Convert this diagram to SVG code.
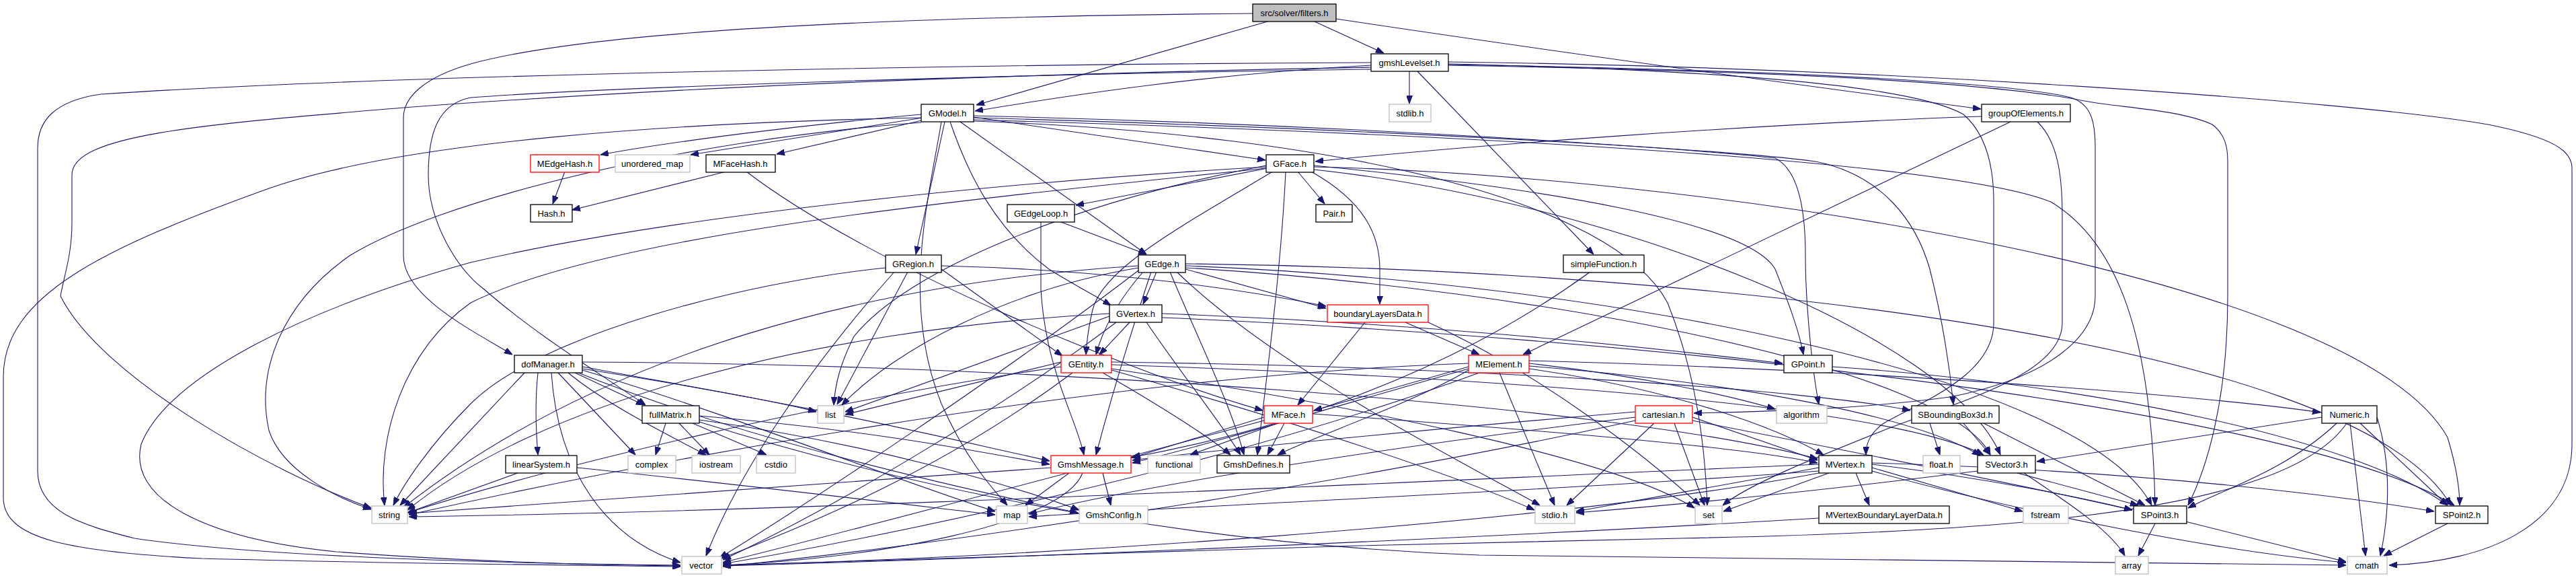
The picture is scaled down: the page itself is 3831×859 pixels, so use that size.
<svg xmlns="http://www.w3.org/2000/svg" width="3831" height="859" viewBox="0 0 3831 859">
<style>
.e path{fill:none;stroke:#191970;stroke-width:1.1;marker-end:url(#a)}
.n rect{fill:#fff;stroke:#000;stroke-width:1.3}
.g rect{fill:#fff;stroke:#bfbfbf;stroke-width:1.3}
.r rect{fill:#fff;stroke:#ff0000;stroke-width:1.3}
text{font-family:"Liberation Sans",Arial,sans-serif;font-size:13px;text-anchor:middle;fill:#000}
</style>
<defs>
<marker id="a" viewBox="0 0 12 9" refX="12" refY="4.5" markerWidth="12" markerHeight="9" orient="auto" markerUnits="userSpaceOnUse">
<path d="M0,0 L12,4.5 L0,9 z" fill="#191970" stroke="#191970"/>
</marker>
</defs>
<rect width="3831" height="859" fill="#fff"/>
<g id="edges" class="e">
<path d="M1955,32 L2058,79"/>
<path d="M1885,32 L1452,156"/>
<path d="M1863,20 C1400,24 900,40 700,95 C630,115 600,145 600,175 L600,380 C600,440 700,490 762,527"/>
<path d="M1987,28 C2400,90 2780,140 2946,162"/>
<path d="M2039,97 C1800,110 1600,140 1450,165"/>
<path d="M2096,106 L2096,154"/>
<path d="M2108,106 L2370,378"/>
<path d="M2154,92 C2800,100 3500,150 3700,185 C3800,205 3825,225 3825,250 L3825,660 C3825,780 3700,835 3553,840"/>
<path d="M2039,93 C1500,95 600,110 150,140 C80,150 56,180 56,220 L56,700 C56,760 120,780 200,800 C400,830 800,838 1012,840"/>
<path d="M2039,100 C1500,110 1000,130 600,160 C300,185 107,200 107,260 L107,330 C107,380 95,410 90,440 C150,560 400,700 552,755"/>
<path d="M2039,103 C1500,110 900,130 700,145 C650,155 637,200 637,260 C637,330 680,400 720,430 C800,500 900,560 960,602"/>
<path d="M2154,96 C2700,105 3000,125 3080,145 C3110,155 3116,180 3116,220 L3116,440 C3116,500 3050,560 2900,590 C2750,610 2600,612 2519,614"/>
<path d="M2154,97 C2600,105 2950,120 3100,150 C3150,160 3240,162 3290,185 C3310,200 3313,220 3313,240 L3313,440 C3313,600 3280,700 3254,751"/>
<path d="M2154,95 C2600,105 2850,130 2920,170 C2955,200 2965,250 2965,300 L2965,480 C2965,560 2850,600 2800,630 C2780,645 2775,660 2775,676"/>
<path d="M2947,173 C2600,185 2200,215 1956,240"/>
<path d="M2990,181 L2265,527"/>
<path d="M3030,181 C3060,210 3067,260 3067,320 L3067,480 C3067,560 2900,600 2800,640 C2700,680 2600,720 2562,751"/>
<path d="M1370,170 C1200,185 1000,210 893,230"/>
<path d="M1372,175 L1027,230"/>
<path d="M1375,178 L1155,229"/>
<path d="M1448,174 L1882,238"/>
<path d="M1405,181 L1362,378"/>
<path d="M1428,181 L1705,378"/>
<path d="M1413,181 C1440,260 1480,340 1560,400 C1600,425 1630,440 1652,454"/>
<path d="M1370,175 C1000,182 600,210 400,280 C150,370 5,440 5,560 L5,740 C5,800 100,820 300,830 C600,838 850,840 1012,842"/>
<path d="M1370,182 C1000,210 650,300 520,380 C420,450 380,550 400,640 C420,700 500,740 552,757"/>
<path d="M1400,181 C1380,300 1340,450 1400,600 C1440,690 1480,730 1498,751"/>
<path d="M1448,180 C2000,200 2400,300 2480,450 C2520,550 2535,650 2539,751"/>
<path d="M1448,172 C2000,185 2500,220 2640,235 C2670,250 2685,300 2685,380 C2685,450 2695,550 2705,601"/>
<path d="M1448,175 C2000,190 2550,220 2700,240 C2800,260 2850,330 2870,400 C2890,480 2900,550 2905,601"/>
<path d="M1448,178 C2200,200 2900,240 3050,300 C3150,360 3200,500 3205,751"/>
<path d="M840,255 L822,303"/>
<path d="M1080,255 L851,312"/>
<path d="M1110,255 C1300,400 1700,560 1878,610"/>
<path d="M1885,250 L1600,305"/>
<path d="M1930,255 L1970,303"/>
<path d="M1950,255 C2030,300 2052,350 2052,400 L2052,452"/>
<path d="M1891,256 C1750,340 1640,400 1625,460 C1618,490 1616,510 1615,527"/>
<path d="M1912,256 C1905,400 1885,550 1870,676"/>
<path d="M1954,246 C2300,280 2600,330 2640,400 C2660,450 2675,490 2682,527"/>
<path d="M1883,246 C1600,300 1350,400 1270,500 C1250,540 1242,570 1240,602"/>
<path d="M1883,250 C1400,300 900,350 700,450 C600,520 560,650 572,751"/>
<path d="M1883,248 C1500,270 1000,320 700,390 C450,460 250,560 210,660 C190,740 300,800 500,820 C700,835 900,840 1012,841"/>
<path d="M1954,248 C2500,260 3500,400 3640,650 C3655,700 3658,730 3658,751"/>
<path d="M1954,252 C2400,300 2900,500 2975,676"/>
<path d="M1578,330 L1705,378"/>
<path d="M1548,330 L1548,430 C1555,550 1600,620 1612,676"/>
<path d="M1400,400 L1580,529"/>
<path d="M1400,395 C1600,400 1800,420 1972,455"/>
<path d="M1350,404 L1245,601"/>
<path d="M1317,398 C1100,420 800,500 700,600 C640,660 600,720 585,751"/>
<path d="M1330,404 C1200,550 1100,700 1050,826"/>
<path d="M1720,404 L1700,452"/>
<path d="M1700,404 C1660,450 1640,490 1630,527"/>
<path d="M1740,404 C1780,500 1830,600 1850,676"/>
<path d="M1712,404 C1680,500 1650,600 1630,676"/>
<path d="M1693,398 C1500,430 1330,520 1252,602"/>
<path d="M1693,395 C1300,420 900,520 600,754"/>
<path d="M1693,402 C1500,550 1200,750 1070,829"/>
<path d="M1763,398 C2300,430 2900,550 2960,676"/>
<path d="M1763,395 C2400,420 3100,560 3200,751"/>
<path d="M1763,392 C2500,400 3500,500 3645,751"/>
<path d="M1750,404 C1900,550 2200,700 2290,751"/>
<path d="M1763,400 L1972,458"/>
<path d="M1680,479 L1635,527"/>
<path d="M1728,466 C2100,480 2400,510 2651,540"/>
<path d="M1650,470 L1257,612"/>
<path d="M1650,466 C1200,490 800,600 606,758"/>
<path d="M1660,479 C1500,600 1250,750 1075,832"/>
<path d="M1705,479 C1760,560 1810,620 1845,676"/>
<path d="M1728,472 C2400,500 3400,600 3650,751"/>
<path d="M2030,479 L1930,602"/>
<path d="M2090,479 L2200,527"/>
<path d="M2124,479 C2300,560 2450,680 2528,751"/>
<path d="M855,554 L958,602"/>
<path d="M866,545 C1000,570 1150,595 1214,612"/>
<path d="M800,554 C795,600 797,640 800,676"/>
<path d="M830,554 L945,676"/>
<path d="M845,554 C900,600 1000,650 1050,676"/>
<path d="M780,554 L595,751"/>
<path d="M820,554 C830,700 900,800 1012,836"/>
<path d="M866,550 C1100,620 1350,720 1480,760"/>
<path d="M866,548 C1200,600 1400,650 1561,685"/>
<path d="M866,538 C1500,540 2400,600 2703,682"/>
<path d="M860,554 C1100,650 1400,720 1603,762"/>
<path d="M1578,538 L1257,616"/>
<path d="M1595,554 C1400,700 1200,780 1073,830"/>
<path d="M1578,545 C1200,600 800,700 606,762"/>
<path d="M1653,542 C2200,560 2800,600 2950,676"/>
<path d="M1653,538 C2200,545 2700,580 2841,610"/>
<path d="M1640,554 C1720,600 1800,650 1830,676"/>
<path d="M1653,548 C2000,600 2400,680 2520,755"/>
<path d="M1653,550 C1900,620 2150,700 2282,758"/>
<path d="M2184,545 L1954,610"/>
<path d="M2230,554 L2312,751"/>
<path d="M2184,548 C2000,600 1800,660 1684,688"/>
<path d="M2184,550 C2100,600 1950,650 1900,676"/>
<path d="M2184,540 C1600,560 900,700 608,765"/>
<path d="M2274,548 C2500,580 2650,640 2712,676"/>
<path d="M2274,540 C2450,560 2580,590 2640,608"/>
<path d="M2274,544 C2600,570 2850,620 2945,677"/>
<path d="M2274,536 C2800,550 3300,590 3451,613"/>
<path d="M2200,554 C1800,700 1300,800 1075,838"/>
<path d="M2725,545 C3100,570 3500,650 3640,751"/>
<path d="M990,629 L975,676"/>
<path d="M1010,629 L1055,676"/>
<path d="M1030,629 L1140,676"/>
<path d="M1040,618 C1300,640 1450,670 1561,690"/>
<path d="M1040,624 C1300,660 1500,720 1605,758"/>
<path d="M1040,627 C1400,740 1800,810 2200,825 C2800,835 3300,838 3489,840"/>
<path d="M1900,629 L1770,676"/>
<path d="M1880,620 L1684,680"/>
<path d="M1910,629 L1885,676"/>
<path d="M1880,625 C1600,700 1300,780 1075,836"/>
<path d="M1952,615 C2300,640 2600,665 2703,688"/>
<path d="M2460,629 L2330,751"/>
<path d="M2490,629 L2535,751"/>
<path d="M2432,620 C2100,660 1700,720 1530,764"/>
<path d="M2432,625 C2000,720 1400,810 1075,842"/>
<path d="M2432,612 C2100,640 1800,670 1684,684"/>
<path d="M2517,620 L2703,684"/>
<path d="M2517,625 C2800,680 3050,730 3171,758"/>
<path d="M2870,629 L2885,676"/>
<path d="M2920,629 L2960,676"/>
<path d="M2950,629 L3190,751"/>
<path d="M3453,620 L3029,686"/>
<path d="M3475,629 C3400,700 3300,730 3254,755"/>
<path d="M3510,629 L3640,751"/>
<path d="M3495,629 L3518,826"/>
<path d="M3535,620 C3560,700 3550,780 3540,826"/>
<path d="M3490,629 C3400,760 3000,790 2500,800 C2000,810 1300,830 1075,840"/>
<path d="M2760,703 L2780,751"/>
<path d="M2705,695 L2344,760"/>
<path d="M2720,703 L2563,760"/>
<path d="M2705,700 C2300,730 1800,750 1530,768"/>
<path d="M2784,695 L3008,760"/>
<path d="M2784,690 C2950,710 3100,740 3171,758"/>
<path d="M2784,688 C3200,700 3500,740 3620,760"/>
<path d="M2784,700 C3000,760 3300,820 3489,836"/>
<path d="M2705,703 C2300,780 1500,830 1075,840"/>
<path d="M2705,690 C2000,720 1200,760 608,768"/>
<path d="M770,703 L606,762"/>
<path d="M858,695 C1100,720 1350,750 1480,765"/>
<path d="M1590,703 L1525,751"/>
<path d="M1640,703 L1652,751"/>
<path d="M1610,703 C1580,780 1300,830 1075,840"/>
<path d="M1563,695 C1200,720 800,750 608,763"/>
<path d="M2705,770 C2200,800 1500,830 1075,841"/>
<path d="M3000,703 L3180,751"/>
<path d="M3010,703 C3080,750 3140,790 3160,826"/>
<path d="M2941,700 C2700,730 2500,750 2344,762"/>
<path d="M3205,778 L3180,826"/>
<path d="M3250,775 L3489,835"/>
<path d="M3640,778 L3545,826"/>
<path d="M2365,404 C2150,560 1900,640 1682,680"/>
</g>
<g id="filters" class="n"><rect x="1863" y="6" width="124" height="26" style="fill:#bfbfbf"/><text x="1925" y="24">src/solver/filters.h</text></g>
<g id="gmshLevelset" class="n"><rect x="2039" y="80" width="115" height="26"/><text x="2096" y="98">gmshLevelset.h</text></g>
<g id="GModel" class="n"><rect x="1370" y="155" width="78" height="26"/><text x="1409" y="173">GModel.h</text></g>
<g id="stdlib" class="g"><rect x="2066" y="155" width="62" height="26"/><text x="2097" y="173">stdlib.h</text></g>
<g id="groupOfElements" class="n"><rect x="2947" y="155" width="132" height="26"/><text x="3013" y="173">groupOfElements.h</text></g>
<g id="MEdgeHash" class="r"><rect x="789" y="230" width="102" height="26"/><text x="840" y="248">MEdgeHash.h</text></g>
<g id="unordered_map" class="g"><rect x="915" y="230" width="111" height="26"/><text x="970" y="248">unordered_map</text></g>
<g id="MFaceHash" class="n"><rect x="1050" y="230" width="103" height="26"/><text x="1101" y="248">MFaceHash.h</text></g>
<g id="GFace" class="n"><rect x="1883" y="230" width="71" height="26"/><text x="1918" y="248">GFace.h</text></g>
<g id="Hash" class="n"><rect x="789" y="304" width="62" height="26"/><text x="820" y="322">Hash.h</text></g>
<g id="GEdgeLoop" class="n"><rect x="1498" y="304" width="100" height="26"/><text x="1548" y="322">GEdgeLoop.h</text></g>
<g id="Pair" class="n"><rect x="1957" y="304" width="54" height="26"/><text x="1984" y="322">Pair.h</text></g>
<g id="GRegion" class="n"><rect x="1317" y="379" width="83" height="26"/><text x="1358" y="397">GRegion.h</text></g>
<g id="GEdge" class="n"><rect x="1693" y="379" width="70" height="26"/><text x="1728" y="397">GEdge.h</text></g>
<g id="simpleFunction" class="n"><rect x="2325" y="379" width="120" height="26"/><text x="2385" y="397">simpleFunction.h</text></g>
<g id="GVertex" class="n"><rect x="1650" y="453" width="78" height="26"/><text x="1689" y="471">GVertex.h</text></g>
<g id="boundaryLayersData" class="r"><rect x="1974" y="453" width="150" height="26"/><text x="2049" y="471">boundaryLayersData.h</text></g>
<g id="dofManager" class="n"><rect x="765" y="528" width="101" height="26"/><text x="815" y="546">dofManager.h</text></g>
<g id="GEntity" class="r"><rect x="1578" y="528" width="75" height="26"/><text x="1615" y="546">GEntity.h</text></g>
<g id="MElement" class="r"><rect x="2184" y="528" width="90" height="26"/><text x="2229" y="546">MElement.h</text></g>
<g id="GPoint" class="n"><rect x="2653" y="528" width="72" height="26"/><text x="2689" y="546">GPoint.h</text></g>
<g id="fullMatrix" class="n"><rect x="955" y="603" width="85" height="26"/><text x="997" y="621">fullMatrix.h</text></g>
<g id="list" class="g"><rect x="1216" y="603" width="39" height="26"/><text x="1235" y="621">list</text></g>
<g id="MFace" class="r"><rect x="1880" y="603" width="72" height="26"/><text x="1916" y="621">MFace.h</text></g>
<g id="cartesian" class="r"><rect x="2432" y="603" width="85" height="26"/><text x="2474" y="621">cartesian.h</text></g>
<g id="algorithm" class="g"><rect x="2642" y="603" width="75" height="26"/><text x="2679" y="621">algorithm</text></g>
<g id="SBoundingBox3d" class="n"><rect x="2843" y="603" width="130" height="26"/><text x="2908" y="621">SBoundingBox3d.h</text></g>
<g id="Numeric" class="n"><rect x="3453" y="603" width="82" height="26"/><text x="3494" y="621">Numeric.h</text></g>
<g id="linearSystem" class="n"><rect x="752" y="677" width="106" height="26"/><text x="805" y="695">linearSystem.h</text></g>
<g id="complex" class="g"><rect x="934" y="677" width="71" height="26"/><text x="969" y="695">complex</text></g>
<g id="iostream" class="g"><rect x="1029" y="677" width="72" height="26"/><text x="1065" y="695">iostream</text></g>
<g id="cstdio" class="g"><rect x="1125" y="677" width="58" height="26"/><text x="1154" y="695">cstdio</text></g>
<g id="GmshMessage" class="r"><rect x="1563" y="677" width="119" height="26"/><text x="1622" y="695">GmshMessage.h</text></g>
<g id="functional" class="g"><rect x="1707" y="677" width="78" height="26"/><text x="1746" y="695">functional</text></g>
<g id="GmshDefines" class="n"><rect x="1810" y="677" width="108" height="26"/><text x="1864" y="695">GmshDefines.h</text></g>
<g id="MVertex" class="n"><rect x="2705" y="677" width="79" height="26"/><text x="2744" y="695">MVertex.h</text></g>
<g id="float" class="g"><rect x="2860" y="677" width="55" height="26"/><text x="2887" y="695">float.h</text></g>
<g id="SVector3" class="n"><rect x="2941" y="677" width="86" height="26"/><text x="2984" y="695">SVector3.h</text></g>
<g id="string" class="g"><rect x="553" y="752" width="53" height="26"/><text x="579" y="770">string</text></g>
<g id="map" class="g"><rect x="1482" y="752" width="46" height="26"/><text x="1505" y="770">map</text></g>
<g id="GmshConfig" class="g"><rect x="1605" y="752" width="102" height="26"/><text x="1656" y="770">GmshConfig.h</text></g>
<g id="stdio" class="g"><rect x="2283" y="752" width="59" height="26"/><text x="2312" y="770">stdio.h</text></g>
<g id="set" class="g"><rect x="2521" y="752" width="40" height="26"/><text x="2541" y="770">set</text></g>
<g id="MVertexBoundaryLayerData" class="n"><rect x="2705" y="752" width="194" height="26"/><text x="2802" y="770">MVertexBoundaryLayerData.h</text></g>
<g id="fstream" class="g"><rect x="3009" y="752" width="67" height="26"/><text x="3042" y="770">fstream</text></g>
<g id="SPoint3" class="n"><rect x="3173" y="752" width="79" height="26"/><text x="3212" y="770">SPoint3.h</text></g>
<g id="SPoint2" class="n"><rect x="3622" y="752" width="78" height="26"/><text x="3661" y="770">SPoint2.h</text></g>
<g id="vector" class="g"><rect x="1014" y="827" width="59" height="26"/><text x="1043" y="845">vector</text></g>
<g id="array" class="g"><rect x="3146" y="827" width="49" height="26"/><text x="3170" y="845">array</text></g>
<g id="cmath" class="g"><rect x="3491" y="827" width="59" height="26"/><text x="3520" y="845">cmath</text></g>
</svg>
